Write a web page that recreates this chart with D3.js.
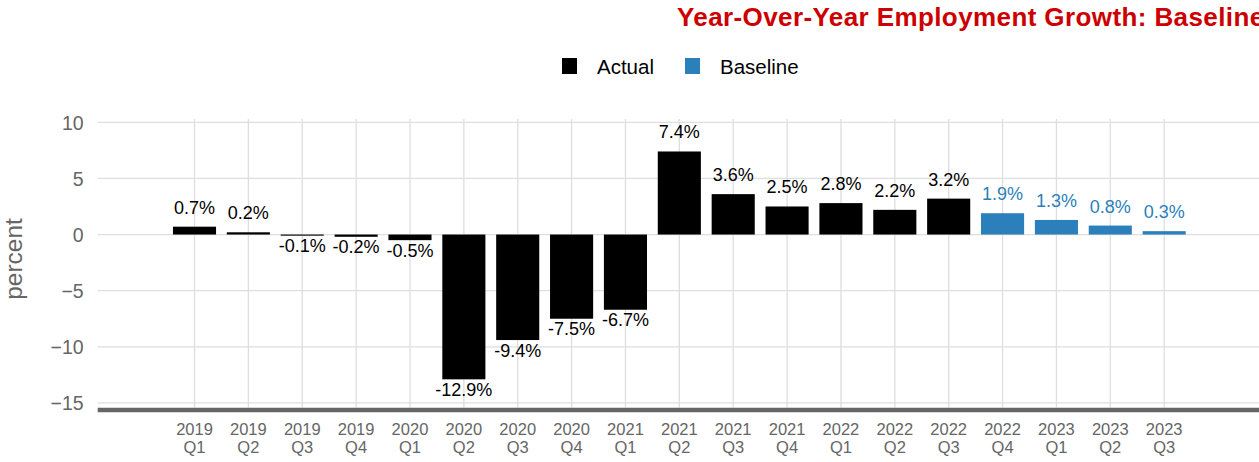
<!DOCTYPE html>
<html>
<head>
<meta charset="utf-8">
<script src="https://cdn.jsdelivr.net/npm/d3@7"></script>
<style>
  html, body { margin: 0; padding: 0; background: #ffffff; }
  svg { display: block; font-family: "Liberation Sans", Arial, sans-serif; }
</style>
</head>
<body>
<svg id="chart" width="1259" height="462"></svg>
<script>
// Quarterly year-over-year employment growth, percent
const categories = [
  "2019 Q1", "2019 Q2", "2019 Q3", "2019 Q4",
  "2020 Q1", "2020 Q2", "2020 Q3", "2020 Q4",
  "2021 Q1", "2021 Q2", "2021 Q3", "2021 Q4",
  "2022 Q1", "2022 Q2", "2022 Q3", "2022 Q4",
  "2023 Q1", "2023 Q2", "2023 Q3"
];
const actualValues = [0.7, 0.2, -0.1, -0.2, -0.5, -12.9, -9.4, -7.5, -6.7, 7.4, 3.6, 2.5, 2.8, 2.2, 3.2, null, null, null, null];
const baselineValues = [null, null, null, null, null, null, null, null, null, null, null, null, null, null, null, 1.9, 1.3, 0.8, 0.3];
const yTicks = [-15, -10, -5, 0, 5, 10];
const seriesNames = ["Actual", "Baseline"];
const seriesColors = ["#000000", "#2b7fbb"];

const svg = d3.select("#chart");
const panel = { left: 97.7, right: 1259, top: 119, bottom: 407.5 };

// band centres start at 194.5 with a step of ~53.9
const step = 53.87;
const x = d3.scaleBand()
  .domain(categories)
  .range([194.5 - step / 2, 194.5 - step / 2 + step * categories.length])
  .paddingInner(0.2)
  .paddingOuter(0.1);

const y = d3.scaleLinear().domain([-15, 10]).range([402.9, 122.3]);
const color = d3.scaleOrdinal().domain(seriesNames).range(seriesColors);

// grid
const grid = svg.append("g");
grid.selectAll("line.h").data(yTicks).join("line")
  .attr("x1", panel.left).attr("x2", panel.right)
  .attr("y1", d => y(d)).attr("y2", d => y(d))
  .attr("stroke", "#dedede").attr("stroke-width", 1.3);
grid.selectAll("line.v").data(categories).join("line")
  .attr("x1", d => x(d) + x.bandwidth() / 2).attr("x2", d => x(d) + x.bandwidth() / 2)
  .attr("y1", panel.top).attr("y2", panel.bottom)
  .attr("stroke", "#dedede").attr("stroke-width", 1.3);

// y axis
const yAxis = svg.append("g")
  .attr("transform", `translate(${panel.left},0)`)
  .call(d3.axisLeft(y).tickValues(yTicks).tickSize(0).tickPadding(14).tickFormat(d3.format("d")));
yAxis.select(".domain").remove();
yAxis.selectAll("text")
  .attr("fill", "#666666")
  .style("font-size", "19.5px")
  .attr("dy", "0.36em");

svg.append("text")
  .attr("transform", "translate(22,259) rotate(-90)")
  .attr("text-anchor", "middle")
  .attr("fill", "#666666")
  .style("font-size", "24.5px")
  .text("percent");

// x axis line
svg.append("line")
  .attr("x1", panel.left).attr("x2", panel.right)
  .attr("y1", 410).attr("y2", 410)
  .attr("stroke", "#666666").attr("stroke-width", 4.6);

// x axis labels on two lines
const xAxis = svg.append("g")
  .attr("transform", "translate(0,412)")
  .call(d3.axisBottom(x).tickSize(0).tickPadding(0));
xAxis.select(".domain").remove();
xAxis.selectAll(".tick text").each(function(d) {
  const parts = d.split(" ");
  const t = d3.select(this).text(null)
    .attr("fill", "#666666")
    .style("font-size", "16.5px")
    .attr("y", 0).attr("dy", null);
  t.append("tspan").attr("x", 0).attr("y", 23).text(parts[0]);
  t.append("tspan").attr("x", 0).attr("y", 41).text(parts[1]);
});

// bars and value labels
function drawSeries(values, name) {
  const data = categories.map((c, i) => ({ c, v: values[i] })).filter(d => d.v !== null);
  const g = svg.append("g");
  g.selectAll("rect").data(data).join("rect")
    .attr("x", d => x(d.c))
    .attr("width", x.bandwidth())
    .attr("y", d => y(Math.max(0, d.v)))
    .attr("height", d => Math.max(1, Math.abs(y(d.v) - y(0))))
    .attr("fill", color(name));
  g.selectAll("text").data(data).join("text")
    .attr("x", d => x(d.c) + x.bandwidth() / 2)
    .attr("y", d => d.v >= 0 ? y(d.v) - 13 : y(d.v) + 16.5)
    .attr("text-anchor", "middle")
    .attr("fill", color(name))
    .style("font-size", "18px")
    .text(d => d.v.toFixed(1) + "%");
}
drawSeries(actualValues, "Actual");
drawSeries(baselineValues, "Baseline");

// legend
const legendX = [562, 685];
const legend = svg.append("g");
seriesNames.forEach((name, i) => {
  legend.append("rect")
    .attr("x", legendX[i]).attr("y", 58)
    .attr("width", 15).attr("height", 16)
    .attr("fill", color(name));
  legend.append("text")
    .attr("x", legendX[i] + 35).attr("y", 73.5)
    .attr("fill", "#000000")
    .style("font-size", "20.5px")
    .text(name);
});

// title
svg.append("text")
  .attr("x", 677).attr("y", 26)
  .attr("fill", "#cc0000")
  .style("font-size", "26px")
  .style("font-weight", "bold")
  .style("letter-spacing", "0.4px")
  .text("Year-Over-Year Employment Growth: Baseline");
</script>
</body>
</html>
